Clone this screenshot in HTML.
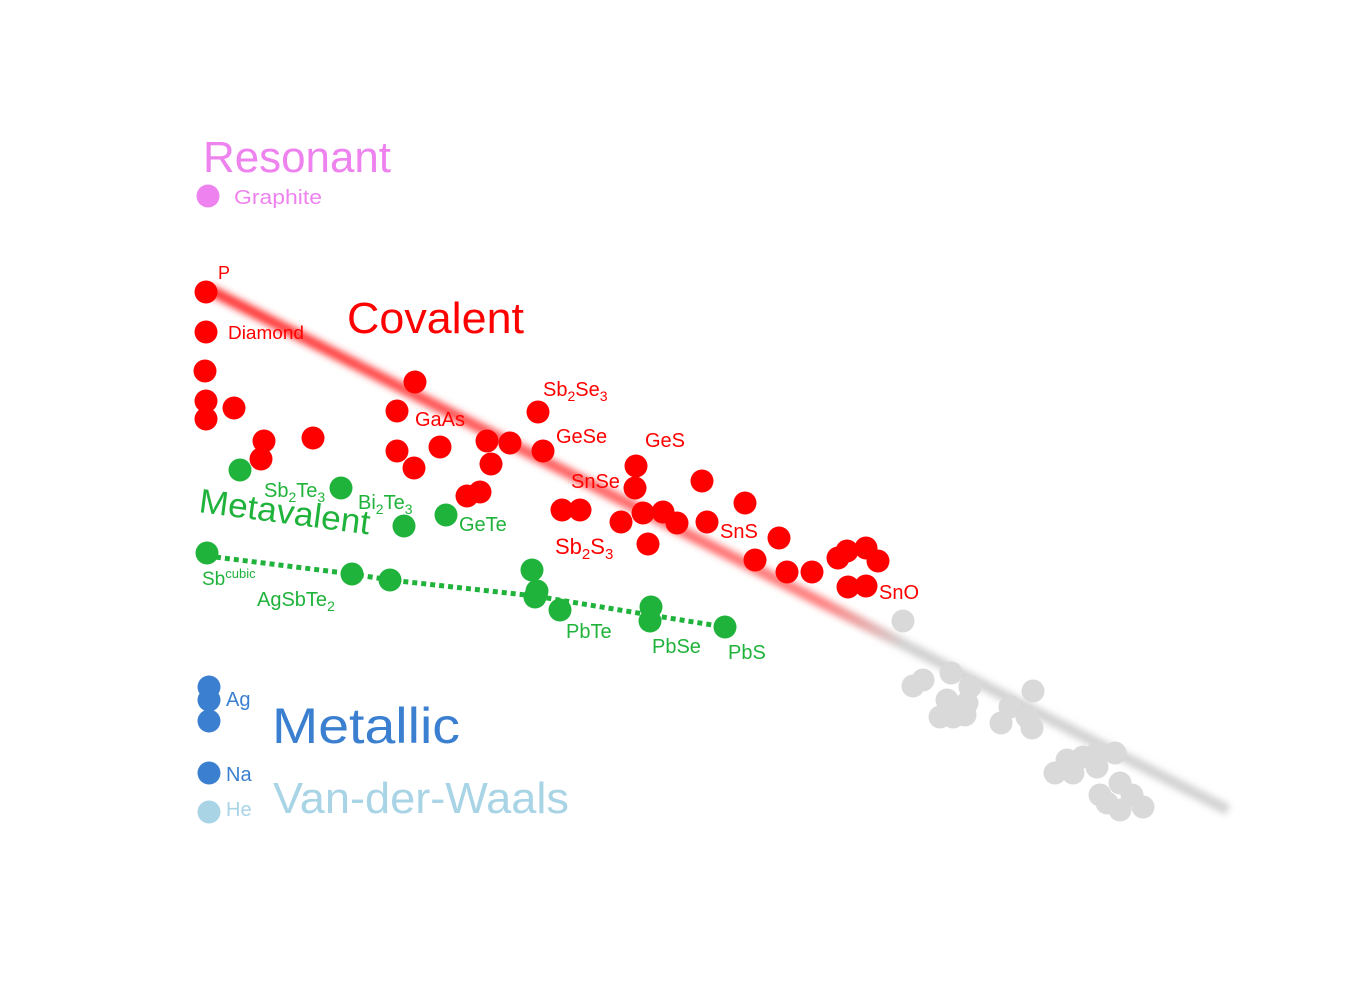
<!DOCTYPE html>
<html><head><meta charset="utf-8"><style>
html,body{margin:0;padding:0;background:#fff;}
svg{display:block;font-family:"Liberation Sans",sans-serif;}
</style></head><body>
<svg id="chart" width="1348" height="988" viewBox="0 0 1348 988">
<defs>
<linearGradient id="trendGrad" x1="210" y1="290" x2="1230" y2="810" gradientUnits="userSpaceOnUse">
<stop offset="0" stop-color="#ff2020" stop-opacity="0.9"/>
<stop offset="0.6" stop-color="#ff6060" stop-opacity="0.8"/>
<stop offset="0.68" stop-color="#cccccc" stop-opacity="0.9"/>
<stop offset="1" stop-color="#cfcfcf" stop-opacity="0.9"/>
</linearGradient>
<filter id="blur" x="-10%" y="-10%" width="120%" height="120%"><feGaussianBlur stdDeviation="3.5"/></filter>
</defs>
<line x1="210" y1="290" x2="1228" y2="810" stroke="url(#trendGrad)" stroke-width="11" filter="url(#blur)"/>
<g id="marks"></g>
<g id="labels">
<text x="203" y="172" font-size="44" fill="#ee82ee" textLength="188" lengthAdjust="spacingAndGlyphs">Resonant</text>
<text x="234" y="204" font-size="20" fill="#ee82ee" textLength="88" lengthAdjust="spacingAndGlyphs">Graphite</text>
<text x="218" y="279" font-size="18" fill="#f00">P</text>
<text x="228" y="339" font-size="18" fill="#f00" textLength="76" lengthAdjust="spacingAndGlyphs">Diamond</text>
<text x="347" y="333" font-size="44" fill="#f00" textLength="177" lengthAdjust="spacingAndGlyphs">Covalent</text>
<text x="415" y="426" font-size="20" fill="#f00">GaAs</text>
<text x="543" y="396" font-size="20" fill="#f00">Sb<tspan font-size="14" dy="5">2</tspan><tspan dy="-5">Se</tspan><tspan font-size="14" dy="5">3</tspan></text>
<text x="556" y="443" font-size="20" fill="#f00">GeSe</text>
<text x="645" y="447" font-size="20" fill="#f00">GeS</text>
<text x="571" y="488" font-size="20" fill="#f00">SnSe</text>
<text x="720" y="538" font-size="20" fill="#f00">SnS</text>
<text x="555" y="554" font-size="22" fill="#f00">Sb<tspan font-size="15" dy="5">2</tspan><tspan dy="-5">S</tspan><tspan font-size="15" dy="5">3</tspan></text>
<text x="879" y="599" font-size="20" fill="#f00">SnO</text>
<text x="264" y="497" font-size="20" fill="#1fb33b">Sb<tspan font-size="14" dy="5">2</tspan><tspan dy="-5">Te</tspan><tspan font-size="14" dy="5">3</tspan></text>
<text x="358" y="509" font-size="20" fill="#1fb33b">Bi<tspan font-size="14" dy="5">2</tspan><tspan dy="-5">Te</tspan><tspan font-size="14" dy="5">3</tspan></text>
<text x="459" y="531" font-size="20" fill="#1fb33b">GeTe</text>
<text x="198" y="512" font-size="34" fill="#1fb33b" textLength="172" lengthAdjust="spacingAndGlyphs" transform="rotate(7.5 198 512)">Metavalent</text>
<text x="202" y="585" font-size="19" fill="#1fb33b">Sb<tspan font-size="13" dy="-7">cubic</tspan></text>
<text x="257" y="606" font-size="20" fill="#1fb33b">AgSbTe<tspan font-size="14" dy="5">2</tspan></text>
<text x="566" y="638" font-size="20" fill="#1fb33b">PbTe</text>
<text x="652" y="653" font-size="20" fill="#1fb33b">PbSe</text>
<text x="728" y="659" font-size="20" fill="#1fb33b">PbS</text>
<text x="226" y="706" font-size="20" fill="#3a7fd0">Ag</text>
<text x="272" y="743" font-size="50" fill="#3a7fd0" textLength="188" lengthAdjust="spacingAndGlyphs">Metallic</text>
<text x="226" y="781" font-size="20" fill="#3a7fd0">Na</text>
<text x="226" y="816" font-size="20" fill="#a8d4e6">He</text>
<text x="273" y="813" font-size="44" fill="#a8d4e6" textLength="296" lengthAdjust="spacingAndGlyphs">Van-der-Waals</text>
</g>
</svg>
<script>
// data space: x 0..100, y 0..100 (arbitrary bonding-map units)
const covalentX = [0.6,0.6,0.5,0.6,0.6,3.4,6.4,6.1,11.3,21.5,19.7,19.7,21.4,24,28.7,31,29.1,26.7,28,33.8,34.3,43.6,43.5,50.2,54.5,36.2,38,42.1,44.3,46.3,47.7,44.8,50.7,57.9,55.5,58.7,61.2,63.8,64.7,66.6,67.8,64.8,66.6];
const covalentY = [55.8,51.8,47.9,44.9,43.1,44.2,40.9,39.1,41.2,46.8,43.9,39.9,38.2,40.3,40.9,40.7,38.6,35.4,35.8,43.8,39.9,38.4,36.2,36.9,34.7,34,34,32.8,33.7,33.8,32.7,30.6,32.8,31.2,29,27.8,27.8,29.2,29.9,30.2,28.9,26.3,26.4];
const metavalentX = [4,14.1,20.4,24.6,0.7,15.2,19,33.2,33.7,33.5,36,45.1,45,52.5];
const metavalentY = [38,36.2,32.4,33.5,29.7,27.6,27,28,25.9,25.3,24,24.3,22.9,22.3];
const dottedX = [0.7,15.2,19,33.5,45,52.5];
const dottedY = [29.4,27.6,27,25.4,23.5,22.3];
const vdwX = [70.3,71.3,72.3,75.1,77,74.7,76.7,74,75.3,76.5,83.3,81,80.1,82.7,83.2,86.7,85.5,88.3,89.7,91.5,87.3,89.7,90,92,93.2,92,94.3,90.7];
const vdwY = [22.9,16.4,17,17.7,16.3,15,14.7,13.3,13.3,13.5,15.9,14.3,12.7,13.3,12.2,9,7.7,9.3,9.7,9.7,7.7,8.3,5.5,6.7,5.5,4,4.3,4.7];
const metallicX = [0.9,0.9,0.9,0.9];
const metallicY = [16.3,15,12.9,7.7];
const heliumX = [0.9];
const heliumY = [3.8];
const resonantX = [0.8];
const resonantY = [65.4];

function xS(v){ return 200 + v*10; }
function yS(v){ return 850 - v*10; }

const NS = 'http://www.w3.org/2000/svg';
const g = document.getElementById('marks');

function drawSeries(xs, ys, color, name){
  for(let i=0;i<xs.length;i++){
    const c = document.createElementNS(NS,'circle');
    c.setAttribute('cx', xS(xs[i]));
    c.setAttribute('cy', yS(ys[i]));
    c.setAttribute('r', 11.5);
    c.setAttribute('fill', color);
    
    
    g.appendChild(c);
  }
}

drawSeries(vdwX, vdwY, '#d9d9d9', 'van-der-waals');

const pl = document.createElementNS(NS,'polyline');
pl.setAttribute('points', dottedX.map((v,i)=>xS(v)+','+yS(dottedY[i])).join(' '));
pl.setAttribute('fill','none');
pl.setAttribute('stroke','#1fb33b');
pl.setAttribute('stroke-width','5');
pl.setAttribute('stroke-dasharray','5 4');


g.appendChild(pl);

drawSeries(covalentX, covalentY, '#ff0000', 'covalent');
drawSeries(metavalentX, metavalentY, '#1fb33b', 'metavalent');
drawSeries(metallicX, metallicY, '#3a7fd0', 'metallic');
drawSeries(heliumX, heliumY, '#a8d4e6', 'helium');
drawSeries(resonantX, resonantY, '#ee82ee', 'resonant');
</script>
</body></html>
